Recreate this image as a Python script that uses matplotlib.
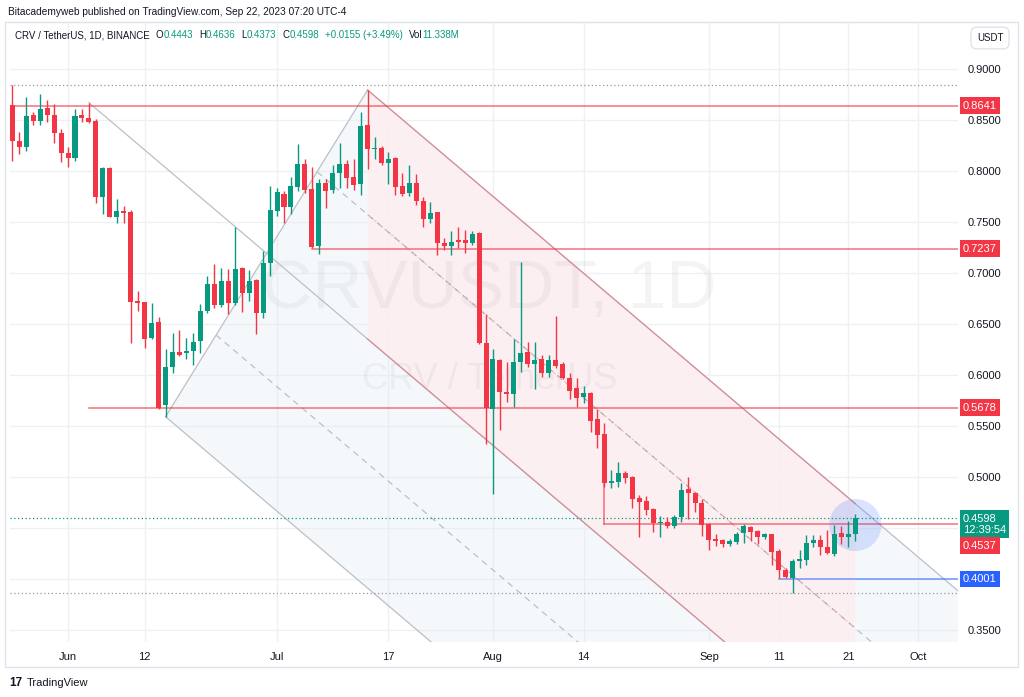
import numpy as np
import pandas as pd
import matplotlib
matplotlib.use("Agg")
import matplotlib.pyplot as plt
from matplotlib.patches import Polygon, Ellipse, Rectangle

plt.rcParams['font.family'] = ['Liberation Sans', 'DejaVu Sans']

GREEN = '#089981'
RED = '#f23645'
BLUE = '#2962ff'
TXT = '#131722'

# daily candles, CRV/USDT, May 24 - Sep 22 2023
dates = pd.date_range("2023-05-24", "2023-09-22", freq="D")
opens = [
    .8647, .8294, .8238, .8553, .8493, .8618, .8553, .8376,
    .8180, .8124, .8553, .8523, .8493, .7748, .8026, .7552, .7611, .7598,
    .6719, .6713, .6360, .6517, .5706, .6075, .6226, .6213, .6236, .6337,
    .6625, .6892, .6686, .6925, .6709, .7046, .6807, .6930, .6612, .7101,
    .7611, .7770, .7650, .7846, .8069, .7827, .7268, .7885, .7814, .7984,
    .8068, .7938, .7872, .8451, .8216, .8229, .8082, .8124, .7853, .7781,
    .7879, .7709, .7529, .7598, .7297, .7268, .7323, .7323, .7291, .7389, .6317,
    .5663, .6147, .5830, .5810, .6131, .6229, .6108, .6154, .6016, .6147,
    .6104, .5974, .5869, .5781, .5827, .5565, .5422, .4945, .4954, .5042,
    .4997, .4797, .4765, .4686, .4546, .4562, .4520, .4605, .4879, .4846, .4742,
    .4539, .4389, .4382, .4343, .4366, .4448, .4513, .4474, .4408, .4441,
    .4278, .4088, .4013, .4177, .4186, .4350, .4382, .4317, .4242, .4454,
    .4415, .4443,
]
highs = [
    .8840, .8386, .8722, .8580, .8755, .8696, .8657, .8410,
    .8240, .8605, .8612, .8670, .8507, .8036, .8036, .7725, .7660, .7620,
    .6824, .6720, .6709, .6566, .6252, .6409, .6441, .6360, .6409, .6696,
    .6970, .7088, .7046, .7036, .7454, .7062, .7030, .6940, .7219, .7853,
    .7830, .7800, .7938, .8265, .8114, .8036, .7925, .7925, .8059, .8271,
    .8108, .8117, .8582, .8794, .8330, .8245, .8189, .8140, .7977, .8059,
    .7967, .7742, .7693, .7600, .7340, .7415, .7454, .7421, .7415, .7405, .6598,
    .6252, .6154, .6131, .6353, .7105, .6327, .6320, .6196, .6196, .6582,
    .6131, .6016, .5967, .5895, .5837, .5663, .5526, .5069, .5150, .5059,
    .5010, .4824, .4814, .4693, .4618, .4605, .4627, .4944, .5003, .4856, .4781,
    .4552, .4438, .4389, .4389, .4464, .4539, .4520, .4480, .4454, .4441,
    .4291, .4105, .4193, .4284, .4431, .4431, .4431, .4480, .4529, .4520,
    .4572, .4636,
]
lows = [
    .8100, .8167, .8200, .8450, .8450, .8484, .8278, .8090,
    .8042, .8098, .8484, .8474, .7690, .7578, .7546, .7493, .7493, .6311,
    .6630, .6268, .6350, .5665, .5591, .6023, .6190, .6154, .6098, .6219,
    .6610, .6657, .6667, .6598, .6690, .6620, .6729, .6402, .6556, .6970,
    .7559, .7487, .7580, .7804, .7780, .7242, .7186, .7634, .7781, .7830,
    .7830, .7814, .7765, .8016, .8114, .8059, .7869, .7765, .7758, .7755,
    .7667, .7454, .7487, .7176, .7225, .7176, .7242, .7199, .7274, .6300, .5324,
    .4833, .5461, .5739, .5683, .6033, .6082, .5860, .5977, .5984, .6065,
    .5958, .5765, .5683, .5722, .5445, .5281, .4900, .4889, .4899, .4938,
    .4693, .4415, .4628, .4464, .4415, .4503, .4497, .4562, .4585, .4660, .4422,
    .4284, .4324, .4317, .4324, .4343, .4350, .4376, .4343, .4389, .4137,
    .4006, .4010, .3866, .4105, .4137, .4310, .4235, .4245, .4229, .4343,
    .4317, .4373,
]
closes = [
    .8294, .8238, .8543, .8487, .8608, .8546, .8370, .8180,
    .8124, .8543, .8523, .8484, .7748, .8026, .7552, .7608, .7585, .6719,
    .6710, .6353, .6507, .5680, .6082, .6229, .6199, .6240, .6320, .6631,
    .6889, .6686, .6925, .6709, .7036, .6801, .6925, .6605, .7095, .7618,
    .7791, .7650, .7853, .8069, .7814, .7252, .7885, .7807, .7984, .8068,
    .7928, .7863, .8441, .8216, .8222, .8075, .8114, .7846, .7771, .7879,
    .7709, .7529, .7591, .7291, .7268, .7307, .7300, .7291, .7382, .6317, .5673,
    .6154, .5830, .5814, .6131, .6212, .6108, .6147, .6016, .6147, .6091,
    .5967, .5846, .5771, .5820, .5552, .5412, .4938, .4954, .5042, .4987,
    .4781, .4758, .4676, .4546, .4562, .4520, .4611, .4872, .4840, .4742, .4530,
    .4382, .4376, .4343, .4373, .4441, .4520, .4464, .4415, .4438, .4268,
    .4088, .4023, .4180, .4193, .4356, .4382, .4317, .4252, .4441, .4415,
    .4443, .4598,
]

# x axis labels
tick_dates = ["2023-06-01", "2023-06-12", "2023-07-01", "2023-07-17", "2023-08-01",
              "2023-08-14", "2023-09-01", "2023-09-11", "2023-09-21", "2023-10-01"]
tick_labels = ["Jun", "12", "Jul", "17", "Aug", "14", "Sep", "11", "21", "Oct"]
# price scale (0.40 and 0.45 are hidden behind the tags)
price_ticks = [0.35, 0.40, 0.45, 0.50, 0.55, 0.60, 0.65, 0.70, 0.75, 0.80, 0.85, 0.90]
price_labels = ["0.3500", "", "", "0.5000", "0.5500", "0.6000", "0.6500", "0.7000",
                "0.7500", "0.8000", "0.8500", "0.9000"]

# drawings (dates, prices)
fork_dates = ["2023-06-04", "2023-06-15", "2023-07-14"]   # pitchfork anchors
fork_prices = [0.8670, 0.5591, 0.8794]
channel_end = "2023-09-22"
levels = [0.8641, 0.7237, 0.5678, 0.4537]
level_start = ["2023-05-23", "2023-07-06", "2023-06-04", "2023-08-17"]
support = 0.4001
support_start = "2023-09-11"
hi_mark, lo_mark = 0.8840, 0.3866
last_price = 0.4598

base = pd.Timestamp("2023-06-01")
def dnum(s):
    return (pd.Timestamp(s) - base).days

x = np.asarray((dates - base).days, dtype=float)
o, h, l, c = map(np.array, (opens, highs, lows, closes))

W, H = 1024, 697
fig = plt.figure(figsize=(W / 100, H / 100), dpi=100)
ax = fig.add_axes([10 / W, 1 - 642 / H, 948 / W, 620 / H])
ax.set_xlim(-8.33, 127.75)
ax.set_ylim(0.3382, 0.9461)
XR = 127.75

# watermark (above the fills, below the candles)
ax.text(0.506, 0.568, "CRVUSDT, 1D", transform=ax.transAxes, ha='center', va='center',
        fontsize=50, color='#787b86', alpha=0.08, zorder=1.5)
ax.text(0.506, 0.423, "CRV / TetherUS", transform=ax.transAxes, ha='center', va='center',
        fontsize=26, color='#787b86', alpha=0.08, zorder=1.5)

# pitchfork
P = [(dnum(d), p) for d, p in zip(fork_dates, fork_prices)]
P1, P2, P3 = P
mid = ((P2[0] + P3[0]) / 2, (P2[1] + P3[1]) / 2)
slope = (mid[1] - P1[1]) / (mid[0] - P1[0])
def on(p0, d):
    return p0[1] + slope * (d - p0[0])
ql = ((P2[0] + mid[0]) / 2, (P2[1] + mid[1]) / 2)
qu = ((P3[0] + mid[0]) / 2, (P3[1] + mid[1]) / 2)

ax.add_patch(Polygon([P2, P3, (XR, on(P3, XR)), (XR, on(P2, XR))], closed=True,
                     fc='#e3ecf1', ec='none', alpha=0.35, zorder=1))
GR = '#bcbfc7'
for p0 in (P1, P2, P3):
    ax.plot([p0[0], XR], [p0[1], on(p0, XR)], color=GR, lw=0.9, zorder=2)
for p0 in (ql, qu):
    ax.plot([p0[0], XR], [p0[1], on(p0, XR)], color=GR, lw=0.9, ls=(0, (5, 4)), zorder=2)
ax.plot([P2[0], P3[0]], [P2[1], P3[1]], color=GR, lw=0.9, zorder=2)

# red channel from the Jul 14 top to the last candle
c0, c1 = P3[0], dnum(channel_end)
ax.add_patch(Polygon([(c0, on(P3, c0)), (c1, on(P3, c1)), (c1, on(P1, c1)), (c0, on(P1, c0))],
                     closed=True, fc='#fdeef0', ec='none', alpha=0.9, zorder=1))
ax.plot([c0, c1], [on(P3, c0), on(P3, c1)], color=RED, lw=1, alpha=0.35, zorder=2)
ax.plot([c0, c1], [on(P1, c0), on(P1, c1)], color=RED, lw=1, alpha=0.35, zorder=2)
ax.plot([c0, c1], [on(qu, c0), on(qu, c1)], color=RED, lw=0.8, alpha=0.3,
        ls=(0, (2, 2)), zorder=2)

# horizontal levels
for lv, st in zip(levels, level_start):
    ax.plot([dnum(st), XR], [lv, lv], color=RED, lw=1.1, alpha=0.7, zorder=3)
ax.plot([dnum("2023-08-17")] * 2, [closes[list(dates).index(pd.Timestamp("2023-08-17"))], levels[3]],
        color=RED, lw=1.1, alpha=0.7, zorder=3)
ax.plot([dnum(support_start), XR], [support, support], color=BLUE, lw=1.1, alpha=0.65, zorder=3)
ax.axhline(hi_mark, color='#9598a1', lw=0.9, ls=(0, (1, 2)), zorder=2)
ax.axhline(lo_mark, color='#9598a1', lw=0.9, ls=(0, (1, 2)), zorder=2)
ax.axhline(last_price, color=GREEN, lw=0.9, ls=(0, (1, 2)), zorder=2)

# highlight circle on the last candle
ax.add_patch(Ellipse((x[-1], levels[3] - 0.0008), width=7.5, height=0.051,
                     fc=BLUE, ec='none', alpha=0.17, zorder=3))

# candles
up = c >= o
col = np.where(up, GREEN, RED)
ax.vlines(x, l, h, colors=col, lw=1, zorder=4)
ax.bar(x, np.maximum(np.abs(c - o), 0.0012), bottom=np.minimum(o, c), width=0.72,
       color=col, lw=0, zorder=5)

# axes styling
ax.set_xticks([dnum(d) for d in tick_dates])
ax.set_xticklabels(tick_labels)
ax.set_yticks(price_ticks)
ax.set_yticklabels(price_labels)
ax.yaxis.tick_right()
ax.tick_params(axis='y', length=0, pad=7, labelsize=8, labelcolor=TXT)
ax.tick_params(axis='x', length=0, pad=7, labelsize=8, labelcolor=TXT)
ax.grid(color='#eef0f4', lw=1, zorder=0)
ax.set_axisbelow(True)
for s in ax.spines.values():
    s.set_visible(False)

# price tags on the scale
def tag(y, text, color, dy=0):
    ax.annotate(text, xy=(1, y), xycoords=('axes fraction', 'data'), xytext=(3.5, dy),
                textcoords='offset points', ha='left', va='center', color='white',
                fontsize=8, linespacing=1.15, annotation_clip=False, zorder=10,
                bbox=dict(boxstyle='square,pad=0.3', fc=color, ec='none'))

tag(levels[0], "0.8641", RED)
tag(levels[1], "0.7237", RED)
tag(levels[2], "0.5678", RED)
tag(last_price, "0.4598\n12:39:54", GREEN, dy=-4.5)
tag(levels[3], "0.4537", RED, dy=-15.5)
tag(support, "0.4001", BLUE)

# header / frame / footer
def fx(px):
    return px / W
def fy(py):
    return 1 - py / H

fig.add_artist(Rectangle((fx(5), fy(667)), 1013 / W, 645 / H, transform=fig.transFigure,
                         fill=False, ec='#e0e3eb', lw=1))
fig.text(fx(8), fy(12), "Bitacademyweb published on TradingView.com, Sep 22, 2023 07:20 UTC-4",
         fontsize=7.3, color=TXT, va='center')

# legend row laid out piece by piece
legend = [("CRV / TetherUS, 1D, BINANCE", TXT, 6), ("O", TXT, 0), ("0.4443", GREEN, 6),
          ("H", TXT, 0), ("0.4636", GREEN, 6), ("L", TXT, 0), ("0.4373", GREEN, 6),
          ("C", TXT, 0), ("0.4598", GREEN, 6), ("+0.0155 (+3.49%)", GREEN, 6),
          ("Vol", TXT, 0), ("11.338M", GREEN, 0)]
renderer = fig.canvas.get_renderer()
cur = 15
for t, cl, gap in legend:
    tx = fig.text(fx(cur), fy(35), t, fontsize=7.0, color=cl, va='center')
    cur += tx.get_window_extent(renderer=renderer).width + gap

fig.text(fx(990), fy(38), "USDT", fontsize=7, color=TXT, ha='center', va='center',
         bbox=dict(boxstyle='round,pad=0.6', fc='white', ec='#e0e3eb', lw=1))
fig.text(fx(9), fy(683), "17", fontsize=8.5, weight='bold', color=TXT, va='center')
fig.text(fx(27), fy(683), "TradingView", fontsize=8, color=TXT, va='center')

fig.savefig("out.png", dpi=100, facecolor='white')
